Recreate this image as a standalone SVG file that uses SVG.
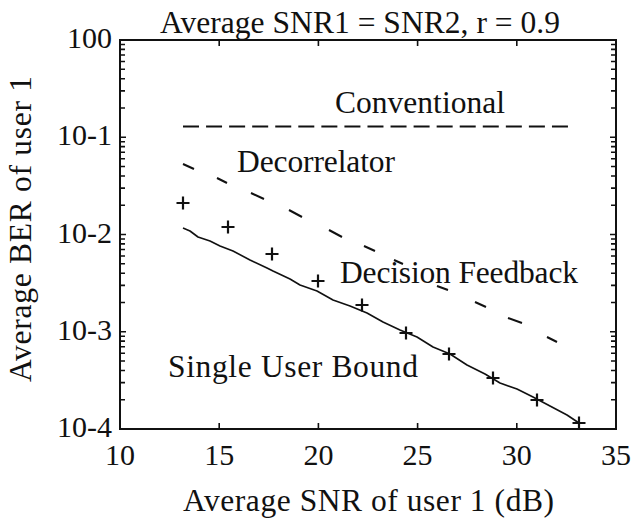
<svg xmlns="http://www.w3.org/2000/svg" width="633" height="522" viewBox="0 0 633 522">
<rect width="633" height="522" fill="#fff"/>
<g id="title"><text x="160" y="33" font-size="31.5" font-family="Liberation Serif" fill="#111" textLength="400">Average SNR1 = SNR2, r = 0.9</text></g>
<g id="y-ticks">
<text x="112" y="48" font-size="30" font-family="Liberation Serif" fill="#111" text-anchor="end">100</text>
<text x="112" y="145" font-size="30" font-family="Liberation Serif" fill="#111" text-anchor="end">10-1</text>
<text x="112" y="243" font-size="30" font-family="Liberation Serif" fill="#111" text-anchor="end">10-2</text>
<text x="112" y="340" font-size="30" font-family="Liberation Serif" fill="#111" text-anchor="end">10-3</text>
<text x="112" y="437" font-size="30" font-family="Liberation Serif" fill="#111" text-anchor="end">10-4</text>
</g>
<g id="x-ticks">
<text x="120" y="465" font-size="30" font-family="Liberation Serif" fill="#111" text-anchor="middle">10</text>
<text x="219.2" y="465" font-size="30" font-family="Liberation Serif" fill="#111" text-anchor="middle">15</text>
<text x="318.4" y="465" font-size="30" font-family="Liberation Serif" fill="#111" text-anchor="middle">20</text>
<text x="417.6" y="465" font-size="30" font-family="Liberation Serif" fill="#111" text-anchor="middle">25</text>
<text x="516.8" y="465" font-size="30" font-family="Liberation Serif" fill="#111" text-anchor="middle">30</text>
<text x="616" y="465" font-size="30" font-family="Liberation Serif" fill="#111" text-anchor="middle">35</text>
</g>
<g id="x-label"><text x="183" y="511" font-size="31.5" font-family="Liberation Serif" fill="#111" textLength="371">Average SNR of user 1 (dB)</text></g>
<g id="y-label"><text transform="translate(31,382) rotate(-90)" x="0" y="0" font-size="31.5" font-family="Liberation Serif" fill="#111" textLength="306">Average BER of user 1</text></g>
<g id="axes" fill="none" stroke="#111">
<rect stroke-width="2" x="120" y="40" width="496" height="389"/>
<path stroke-width="1.6" d="M120 44.45h5M120 49.42h5M120 55.06h5M120 61.57h5M120 69.28h5M120 78.7h5M120 90.85h5M120 107.97h5M120 137.25h6M120 141.7h5M120 146.67h5M120 152.31h5M120 158.82h5M120 166.53h5M120 175.95h5M120 188.1h5M120 205.22h5M120 234.5h6M120 238.95h5M120 243.92h5M120 249.56h5M120 256.07h5M120 263.78h5M120 273.2h5M120 285.35h5M120 302.47h5M120 331.75h6M120 336.2h5M120 341.17h5M120 346.81h5M120 353.32h5M120 361.03h5M120 370.45h5M120 382.6h5M120 399.72h5"/>
<path stroke-width="1.6" d="M616 44.45h-5M616 49.42h-5M616 55.06h-5M616 61.57h-5M616 69.28h-5M616 78.7h-5M616 90.85h-5M616 107.97h-5M616 137.25h-6M616 141.7h-5M616 146.67h-5M616 152.31h-5M616 158.82h-5M616 166.53h-5M616 175.95h-5M616 188.1h-5M616 205.22h-5M616 234.5h-6M616 238.95h-5M616 243.92h-5M616 249.56h-5M616 256.07h-5M616 263.78h-5M616 273.2h-5M616 285.35h-5M616 302.47h-5M616 331.75h-6M616 336.2h-5M616 341.17h-5M616 346.81h-5M616 353.32h-5M616 361.03h-5M616 370.45h-5M616 382.6h-5M616 399.72h-5"/>
<path stroke-width="1.6" d="M219.2 40v6M318.4 40v6M417.6 40v6M516.8 40v6M219.2 429v-6M318.4 429v-6M417.6 429v-6M516.8 429v-6"/>
</g>
<g id="conventional">
<line fill="none" stroke="#111" stroke-width="2" x1="183" y1="126.5" x2="568" y2="126.5" stroke-dasharray="16 7.06"/>
<text x="335" y="113" font-size="31.5" font-family="Liberation Serif" fill="#111" textLength="170">Conventional</text>
</g>
<g id="decorrelator">
<path fill="none" stroke="#111" stroke-width="2" d="M183 164L194 169M217 178L227 183M251 193L264 199M289 210L302 217M329 230L342 237M364 246L375 251M394 260L403 264M437 286L448 290M475 302L486 307M508 318L522 323M547 337L557 342"/>
<text x="237" y="172" font-size="31.5" font-family="Liberation Serif" fill="#111" textLength="158">Decorrelator</text>
</g>
<g id="decision-feedback">
<path fill="none" stroke="#111" stroke-width="2.2" d="M176.5 203h13M183 196.5v13M221.5 227h13M228 220.5v13M265.5 254h13M272 247.5v13M311.5 281h13M318 274.5v13M355.5 305h13M362 298.5v13M399.5 333h13M406 326.5v13M442.5 354h13M449 347.5v13M486.5 378h13M493 371.5v13M530.5 400h13M537 393.5v13M572.5 423h13M579 416.5v13"/>
<text x="340" y="283" font-size="31.5" font-family="Liberation Serif" fill="#111" textLength="238">Decision Feedback</text>
</g>
<g id="single-user-bound">
<polyline fill="none" stroke="#111" stroke-width="1.6" stroke-linejoin="round" points="183,228 190,231 198,237 210,241 220,246 233,251 250,260 267,268 273,271 290,279 300,285 317,291 333,300 350,306 367,313 383,322 400,330 417,337 433,347 450,354 467,365 485,374 500,383 517,389 533,397 550,406 567,415 579,423"/>
<text x="168" y="377" font-size="31.5" font-family="Liberation Serif" fill="#111" textLength="250">Single User Bound</text>
</g>
</svg>
